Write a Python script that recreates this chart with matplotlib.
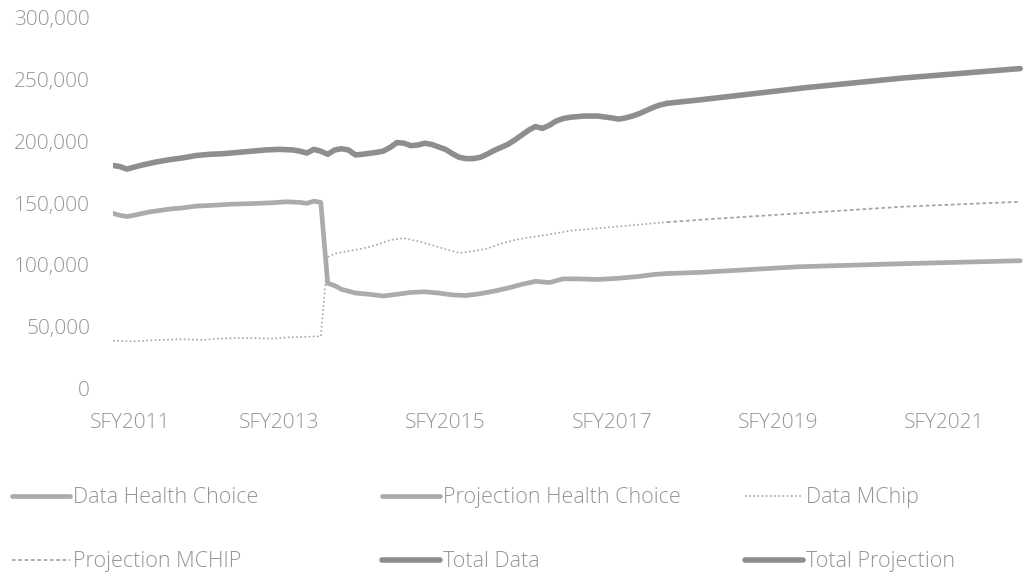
import matplotlib
matplotlib.use("Agg")
import matplotlib.pyplot as plt
from matplotlib.ticker import FuncFormatter

# Month index (0 = first month of SFY2011) and enrollment values
hc_data_x = [0, 1, 2, 3, 5, 8, 10, 12, 14, 17, 20, 23, 25, 27, 28, 29, 30, 31, 32, 33, 35, 37, 39, 41, 43,
             45, 47, 49, 51, 53, 55, 57, 59, 61, 63, 65, 67, 70, 73, 76, 78, 80]
hc_data_y = [141600, 140000, 139000, 140000, 142500, 145000, 146000, 147500, 148000, 149000, 149500, 150200,
             151000, 150500, 149700, 151500, 150500, 85000, 83000, 80000, 77000, 76000, 74600, 76000, 77500,
             78000, 77000, 75500, 75000, 76500, 78500, 81000, 84000, 86500, 85500, 88500, 88500, 88000, 89000,
             90500, 92000, 92800]
hc_proj_x = [80, 85, 99, 114, 131]
hc_proj_y = [92800, 93800, 98300, 100800, 103200]

mc_data_x = [0, 3, 5, 8, 10, 13, 15, 18, 20, 23, 25, 28, 30, 31, 32, 34, 36, 38, 40, 42, 44, 46, 48, 50, 52,
             54, 56, 58, 60, 63, 66, 70, 75, 80]
mc_data_y = [38400, 37800, 38500, 39200, 39500, 39000, 40000, 40500, 40500, 40000, 41000, 41500, 42000,
             106000, 109000, 111000, 113000, 116000, 120000, 121500, 119000, 116000, 112500, 109500, 111000,
             113000, 117000, 120000, 122000, 124500, 127500, 129500, 132000, 134500]
mc_proj_x = [80, 85, 99, 114, 131]
mc_proj_y = [134500, 136500, 141600, 147000, 151000]

tot_data_x = [0, 1, 2, 4, 6, 8, 10, 12, 14, 16, 18, 20, 22, 24, 26, 27, 28, 29, 30, 31, 32, 33, 34, 35, 36,
              38, 39, 40, 41, 42, 43, 44, 45, 46, 47, 48, 49, 50, 51, 52, 53, 54, 55, 56, 57, 58, 59, 60, 61,
              62, 63, 64, 65, 66, 68, 70, 72, 73, 74, 75, 76, 77, 78, 79, 80]
tot_data_y = [180500, 179500, 177500, 180500, 183000, 185000, 186500, 188500, 189500, 190000, 191000, 192000,
              193000, 193500, 193000, 192000, 190500, 193500, 192000, 189500, 193000, 194000, 193000, 189000,
              189500, 191000, 192000, 195000, 199000, 198500, 196500, 197000, 198500, 197500, 195500, 193500,
              190000, 187000, 186000, 186000, 187000, 189500, 192500, 195000, 197500, 201000, 205000, 209000,
              212000, 210500, 213000, 216500, 218500, 219500, 220500, 220500, 219000, 218000, 219000, 220500,
              222500, 225000, 227500, 229500, 230800]
tot_proj_x = [80, 85, 100, 114, 131]
tot_proj_y = [230800, 233800, 243500, 251300, 259000]

tick_pos = [2.5, 24, 48, 72, 96, 120]
tick_labels = ["SFY2011", "SFY2013", "SFY2015", "SFY2017", "SFY2019", "SFY2021"]
y_ticks = [0, 50000, 100000, 150000, 200000, 250000, 300000]

plt.rcParams['font.family'] = ['Open Sans', 'DejaVu Sans']
plt.rcParams['font.weight'] = 'light'
TXT = '#959595'

fig = plt.figure(figsize=(10.23, 5.75), dpi=100)
ax = fig.add_axes([0.1105, 0.3252, 0.8895, 0.6435])

C_TOT = '#8e8e8e'
C_HC = '#ababab'
C_MC = '#a5a5a5'

l1, = ax.plot(hc_data_x, hc_data_y, color=C_HC, lw=3.4, solid_capstyle='round', solid_joinstyle='round')
l2, = ax.plot(hc_proj_x, hc_proj_y, color=C_HC, lw=3.4, solid_capstyle='round', solid_joinstyle='round')
l3, = ax.plot(mc_data_x, mc_data_y, color=C_MC, lw=1.2, linestyle=(0, (1, 1.5)))
l4, = ax.plot(mc_proj_x, mc_proj_y, color=C_MC, lw=1.3, linestyle=(0, (2, 1.5)))
l5, = ax.plot(tot_data_x, tot_data_y, color=C_TOT, lw=4.0, solid_capstyle='round', solid_joinstyle='round')
l6, = ax.plot(tot_proj_x, tot_proj_y, color=C_TOT, lw=4.0, solid_capstyle='round', solid_joinstyle='round')

ax.set_xlim(0, 131.4)
ax.set_ylim(0, 300000)
ax.set_yticks(y_ticks)
ax.yaxis.set_major_formatter(FuncFormatter(lambda v, p: f"{int(v):,}"))
ax.set_xticks(tick_pos)
ax.set_xticklabels(tick_labels)
for s in ax.spines.values():
    s.set_visible(False)
ax.tick_params(axis='both', length=0, colors=TXT, labelsize=15)
ax.tick_params(axis='y', pad=16.5)
ax.tick_params(axis='x', pad=18)

entries = [
    (l1, "Data Health Choice", 0.0117, 0.1340),
    (l2, "Projection Health Choice", 0.3734, 0.1340),
    (l3, "Data MChip", 0.7283, 0.1340),
    (l4, "Projection MCHIP", 0.0117, 0.0230),
    (l5, "Total Data", 0.3734, 0.0230),
    (l6, "Total Projection", 0.7283, 0.0230),
]
for h, lab, x, y in entries:
    fig.legend([h], [lab], loc='center left', bbox_to_anchor=(x, y), frameon=False,
               borderpad=0, borderaxespad=0, handlelength=2.7, handletextpad=0.12,
               fontsize=15.5, labelcolor=TXT)

fig.savefig("out.png", dpi=100)
